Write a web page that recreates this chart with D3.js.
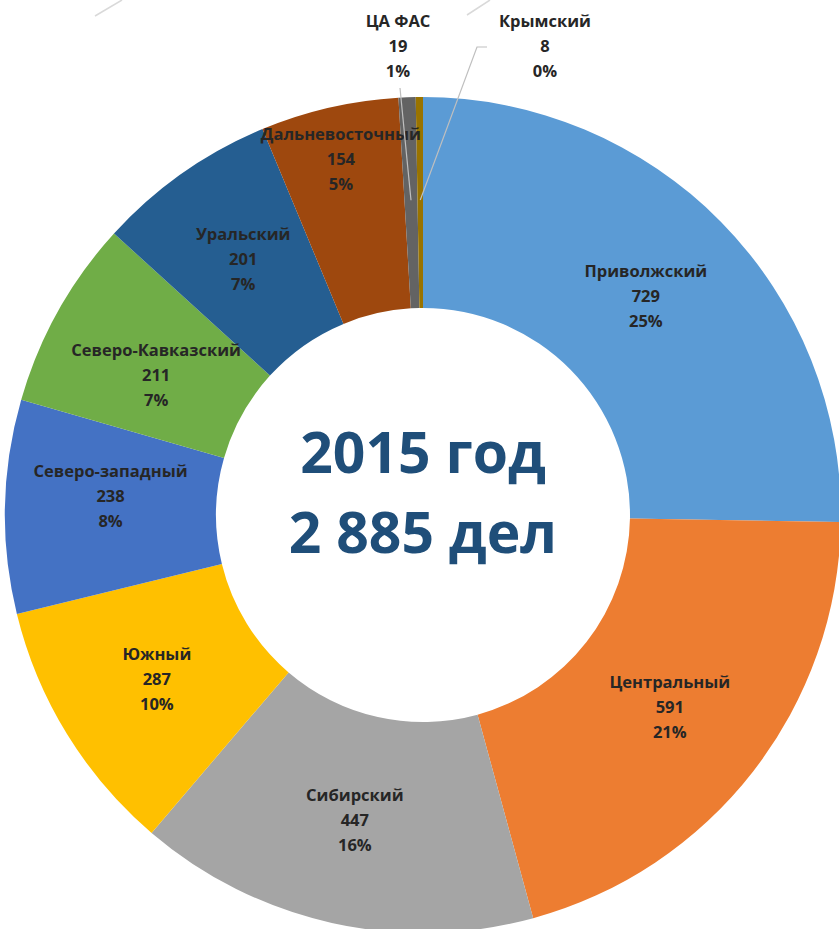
<!DOCTYPE html>
<html>
<head>
<meta charset="utf-8">
<script src="https://cdn.jsdelivr.net/npm/d3@7"></script>
<style>
  html, body { margin: 0; padding: 0; background: #fff; }
  svg { display: block; }
</style>
</head>
<body>
<div id="chart"></div>
<script>
const regions = ['Приволжский', 'Центральный', 'Сибирский', 'Южный', 'Северо-западный',
                 'Северо-Кавказский', 'Уральский', 'Дальневосточный', 'ЦА ФАС', 'Крымский'];
const cases = [729, 591, 447, 287, 238, 211, 201, 154, 19, 8];
// percentages as printed on the chart (rounded to add up to 100%)
const shares = ['25%', '21%', '16%', '10%', '8%', '7%', '7%', '5%', '1%', '0%'];
const colors = ['#5b9bd5', '#ed7d31', '#a5a5a5', '#ffc000', '#4472c4',
                '#70ad47', '#255e91', '#9e480e', '#636363', '#997300'];
const titleLines = ['2015 год', '2 885 дел'];

const width = 839, height = 929;
const cx = 423, cy = 515;
const outerR = 418, innerR = 207;

const svg = d3.select('#chart')
    .append('svg')
    .attr('width', width)
    .attr('height', height)
    .attr('viewBox', `0 0 ${width} ${height}`);

// faint leader lines from the chart above (cut off in the picture)
svg.append('line').attr('x1', 95).attr('y1', 16).attr('x2', 122).attr('y2', 0)
    .attr('stroke', '#d9d9d9').attr('stroke-width', 1.5);
svg.append('line').attr('x1', 467).attr('y1', 15).attr('x2', 490).attr('y2', 0)
    .attr('stroke', '#d9d9d9').attr('stroke-width', 1.5);

const data = regions.map((r, i) => ({ name: r, value: cases[i], share: shares[i], color: colors[i] }));

const pie = d3.pie().value(d => d.value).sort(null);
const arcs = pie(data);

const arc = d3.arc().innerRadius(innerR).outerRadius(outerR);

const g = svg.append('g').attr('transform', `translate(${cx},${cy})`);

g.selectAll('path.slice')
    .data(arcs)
    .enter()
    .append('path')
    .attr('class', 'slice')
    .attr('d', arc)
    .attr('fill', d => d.data.color);

// inside labels
const inside = arcs.filter(d => d.data.value > 100);
const lbl = g.selectAll('g.lbl')
    .data(inside)
    .enter()
    .append('g')
    .attr('class', 'lbl')
    .attr('transform', d => {
        let [x, y] = arc.centroid(d);
        if (d.data.name === 'Дальневосточный') { x *= 1.17; y *= 1.17; }
        if (d.data.name === 'Северо-западный') { y -= 13; }
        if (d.data.name === 'Северо-Кавказский') { x += 6; y += 12; }
        return `translate(${x},${y})`;
    });

const lineGap = 25;
function addLines(sel) {
    sel.each(function(d) {
        const t = d3.select(this);
        const lines = [d.data.name, d.data.value, d.data.share];
        lines.forEach((s, k) => {
            t.append('text')
                .attr('x', 0)
                .attr('y', (k - 1) * lineGap)
                .attr('dy', '0.36em')
                .attr('text-anchor', 'middle')
                .style('font-family', '"Open Sans", "Noto Sans", sans-serif')
                .style('font-size', '16.5px')
                .style('font-weight', '700')
                .attr('fill', '#262626')
                .text(s);
        });
    });
}
addLines(lbl);

// outside labels for the two small slices, with leader lines
const small = arcs.filter(d => d.data.value <= 100);
const anchorR = 315;
small.forEach((d, i) => {
    const mid = (d.startAngle + d.endAngle) / 2;
    const px = anchorR * Math.sin(mid), py = -anchorR * Math.cos(mid);
    const ly = -(outerR + 51);
    const lx = i === 0 ? -25 : 122;
    const lead = g.append('g').attr('class', 'leader');
    if (i === 0) {
        lead.append('polyline')
            .attr('points', `${lx + 2},${ly + 42} ${px},${py}`);
    } else {
        lead.append('polyline')
            .attr('points', `${lx - 58},${ly + 1} ${lx - 68},${ly + 1} ${px},${py}`);
    }
    lead.select('polyline')
        .attr('fill', 'none')
        .attr('stroke', '#bfbfbf')
        .attr('stroke-width', 1.2);
    const t = g.append('g').datum(d).attr('transform', `translate(${lx},${ly})`);
    addLines(t);
});

// centre title
g.selectAll('text.title')
    .data(titleLines)
    .enter()
    .append('text')
    .attr('class', 'title')
    .attr('x', 0)
    .attr('y', (d, i) => i === 0 ? -42 : 38)
    .attr('text-anchor', 'middle')
    .style('font-family', '"Open Sans", "Noto Sans", sans-serif')
    .style('font-size', '57px')
    .style('font-weight', '700')
    .attr('fill', '#1f4e79')
    .text(d => d);
</script>
</body>
</html>
